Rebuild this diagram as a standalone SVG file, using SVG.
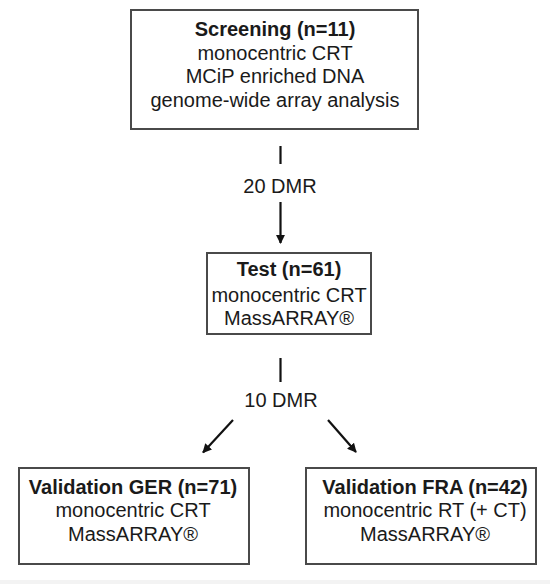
<svg xmlns="http://www.w3.org/2000/svg" width="550" height="584" viewBox="0 0 550 584">
<style>
.box{fill:#fff;stroke:#4a4a4a;stroke-width:2}
text{font-family:"Liberation Sans",Arial,sans-serif;font-size:20px;fill:#1a1a1a;text-anchor:middle}
.b{font-weight:bold}
.ln{stroke:#111;stroke-width:2.2;fill:none}
.ar{stroke:#111;stroke-width:2.2;fill:none;marker-end:url(#ah)}
</style>
<defs>
<marker id="ah" viewBox="0 0 10 10" refX="9" refY="5" markerWidth="4.2" markerHeight="4.2" orient="auto" markerUnits="strokeWidth">
<path d="M0,0 L10,5 L0,10 z" fill="#111"/>
</marker>
</defs>
<rect x="0" y="0" width="550" height="584" fill="#fff"/>
<rect x="0" y="580" width="550" height="4" fill="#f3f3f3"/>
<g id="screening">
<rect class="box" x="131" y="10" width="287" height="119"/>
<text class="b" x="275" y="36">Screening (n=11)</text>
<text x="275" y="60">monocentric CRT</text>
<text x="275" y="83">MCiP enriched DNA</text>
<text x="275" y="107">genome-wide array analysis</text>
</g>
<g id="test">
<rect class="box" x="207" y="253" width="164" height="81"/>
<text class="b" x="289" y="276">Test (n=61)</text>
<text x="289" y="302">monocentric CRT</text>
<text x="289" y="325">MassARRAY®</text>
</g>
<g id="validation-ger">
<rect class="box" x="19" y="468" width="230" height="96"/>
<text class="b" x="133" y="494">Validation GER (n=71)</text>
<text x="133" y="517">monocentric CRT</text>
<text x="133" y="541">MassARRAY®</text>
</g>
<g id="validation-fra">
<rect class="box" x="306" y="468" width="230" height="96"/>
<text class="b" x="425" y="494">Validation FRA (n=42)</text>
<text x="425" y="517">monocentric RT (+ CT)</text>
<text x="425" y="541">MassARRAY®</text>
</g>
<g id="connectors">
<line class="ln" x1="280.5" y1="146" x2="280.5" y2="164"/>
<text x="280" y="193">20 DMR</text>
<line class="ar" x1="280.5" y1="202" x2="280.5" y2="243"/>
<line class="ln" x1="280.5" y1="358" x2="280.5" y2="382"/>
<text x="281" y="407">10 DMR</text>
<line class="ar" x1="233" y1="420" x2="203" y2="452.5"/>
<line class="ar" x1="328" y1="420" x2="356" y2="452"/>
</g>
</svg>
